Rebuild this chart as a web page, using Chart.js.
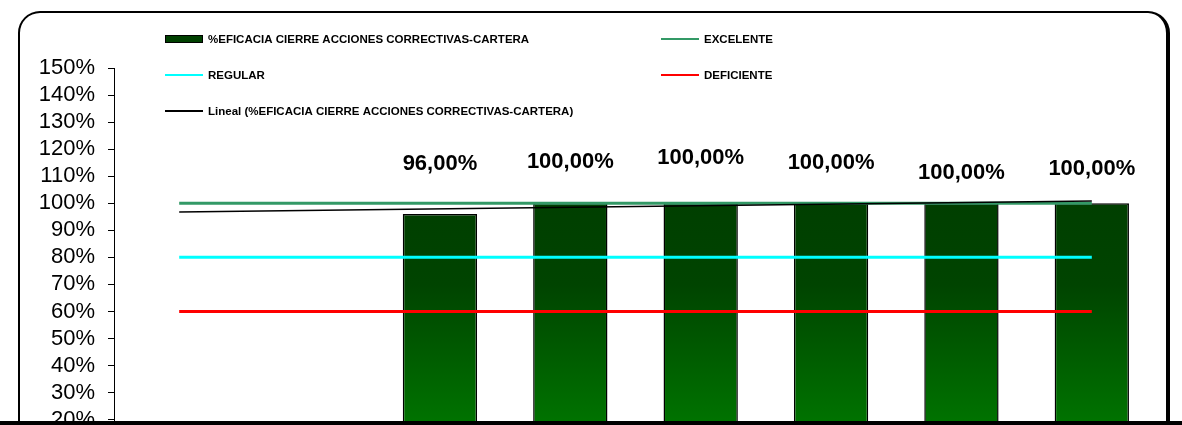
<!DOCTYPE html>
<html lang="es">
<head>
  <meta charset="UTF-8">
  <title>%EFICACIA CIERRE ACCIONES CORRECTIVAS-CARTERA</title>
  <script src="https://cdn.jsdelivr.net/npm/chart.js"></script>
  <style>
    body {
      margin: 0;
      padding: 0;
      width: 1182px;
      height: 425px;
      overflow: hidden;
      background: #fff;
      position: relative;
    }

    .marco {
      position: absolute;
      left: 18px;
      top: 11px;
      width: 1146px;
      height: 520px;
      border: 2px solid #000;
      border-right: 4px solid #000;
      border-radius: 22px;
    }

    .borde-inferior {
      position: absolute;
      left: 0;
      top: 421px;
      width: 1182px;
      height: 4px;
      background: #000;
    }

    canvas {
      position: absolute;
      left: 0;
      top: 0;
    }
  </style>
</head>
<body>
  <div class="marco"></div>
  <canvas id="grafico" width="1182" height="500"></canvas>
  <div class="borde-inferior"></div>

  <script>
    // datos
    const periodos = ['1', '2', '3', '4', '5', '6', '7', '8'];
    const eficacia = [null, null, 96, 100, 100, 100, 100, 100];
    const excelente = [100, 100, 100, 100, 100, 100, 100, 100];
    const regular = [80, 80, 80, 80, 80, 80, 80, 80];
    const deficiente = [60, 60, 60, 60, 60, 60, 60, 60];
    const tendencia = [96.8, null, null, null, null, null, null, 100.8];
    const ticksY = [0, 10, 20, 30, 40, 50, 60, 70, 80, 90, 100, 110, 120, 130, 140, 150];

    // desplazamiento vertical de cada etiqueta (px sobre la barra)
    const subirEtiqueta = [0, 0, 50, 41, 45, 40, 30, 34];

    const ctx = document.getElementById('grafico').getContext('2d');

    function degradado(chart) {
      const { ctx, chartArea, scales } = chart;
      if (!chartArea) return '#005000';
      const g = ctx.createLinearGradient(0, scales.y.getPixelForValue(100), 0, scales.y.getPixelForValue(0));
      g.addColorStop(0, '#003f00');
      g.addColorStop(0.3, '#004400');
      g.addColorStop(1, '#008400');
      return g;
    }

    const etiquetas = {
      id: 'etiquetas',
      afterDatasetsDraw(chart) {
        const c = chart.ctx;
        const meta = chart.getDatasetMeta(0);
        c.save();
        c.font = 'bold 22px "Liberation Sans", Arial, sans-serif';
        c.fillStyle = '#000';
        c.textAlign = 'center';
        c.textBaseline = 'middle';
        meta.data.forEach((bar, i) => {
          const v = eficacia[i];
          if (v === null) return;
          c.fillText(v.toFixed(2).replace('.', ',') + '%', bar.x, bar.y - subirEtiqueta[i]);
        });
        c.restore();
      }
    };

    // leyenda en dos columnas como la original
    const leyenda = {
      id: 'leyenda',
      afterDraw(chart) {
        const c = chart.ctx;
        const ds = chart.data.datasets;
        const items = [
          { d: ds[0], x: 165, y: 39, bar: true },
          { d: ds[1], x: 661, y: 39 },
          { d: ds[2], x: 165, y: 75 },
          { d: ds[3], x: 661, y: 75 },
          { d: ds[4], x: 165, y: 111 }
        ];
        c.save();
        c.font = 'bold 11.5px "Liberation Sans", Arial, sans-serif';
        c.textBaseline = 'middle';
        items.forEach(it => {
          if (it.bar) {
            c.fillStyle = '#004000';
            c.fillRect(it.x, it.y - 3, 38, 6);
            c.strokeStyle = '#000';
            c.lineWidth = 1;
            c.strokeRect(it.x + 0.5, it.y - 3.5, 37, 7);
          } else {
            c.strokeStyle = it.d.borderColor;
            c.lineWidth = 2;
            c.beginPath();
            c.moveTo(it.x, it.y);
            c.lineTo(it.x + 38, it.y);
            c.stroke();
          }
          c.fillStyle = '#000';
          c.fillText(it.d.label, it.x + 43, it.y + 1);
        });
        c.restore();
      }
    };

    new Chart(ctx, {
      type: 'bar',
      data: {
        labels: periodos,
        datasets: [
          {
            label: '%EFICACIA CIERRE ACCIONES CORRECTIVAS-CARTERA',
            data: eficacia,
            backgroundColor: context => degradado(context.chart),
            borderColor: '#000',
            borderWidth: 1.5,
            barPercentage: 0.57,
            categoryPercentage: 1,
            order: 2
          },
          {
            type: 'line',
            label: 'EXCELENTE',
            data: excelente,
            borderColor: '#339966',
            borderWidth: 3,
            pointRadius: 0,
            order: 1
          },
          {
            type: 'line',
            label: 'REGULAR',
            data: regular,
            borderColor: '#00ffff',
            borderWidth: 3,
            pointRadius: 0,
            order: 1
          },
          {
            type: 'line',
            label: 'DEFICIENTE',
            data: deficiente,
            borderColor: '#ff0000',
            borderWidth: 3,
            pointRadius: 0,
            order: 1
          },
          {
            type: 'line',
            label: 'Lineal (%EFICACIA CIERRE ACCIONES CORRECTIVAS-CARTERA)',
            data: tendencia,
            borderColor: '#000000',
            borderWidth: 1.5,
            pointRadius: 0,
            spanGaps: true,
            order: 0
          }
        ]
      },
      options: {
        responsive: false,
        animation: false,
        devicePixelRatio: 1,
        layout: {
          padding: { left: 0, top: 68, right: 25, bottom: 24 }
        },
        plugins: {
          legend: { display: false },
          tooltip: { enabled: false }
        },
        scales: {
          x: {
            display: false,
            offset: true
          },
          y: {
            min: 0,
            max: 150,
            afterFit: scale => { scale.width = 114; },
            afterBuildTicks: scale => {
              scale.ticks = ticksY.map(v => ({ value: v }));
            },
            border: { color: '#000', width: 1 },
            grid: {
              drawOnChartArea: false,
              tickLength: 6,
              color: '#000'
            },
            ticks: {
              autoSkip: false,
              padding: 13,
              color: '#000',
              font: { family: '"Liberation Sans", Arial, sans-serif', size: 22 },
              callback: v => v + '%'
            }
          }
        }
      },
      plugins: [etiquetas, leyenda]
    });
  </script>
</body>
</html>
